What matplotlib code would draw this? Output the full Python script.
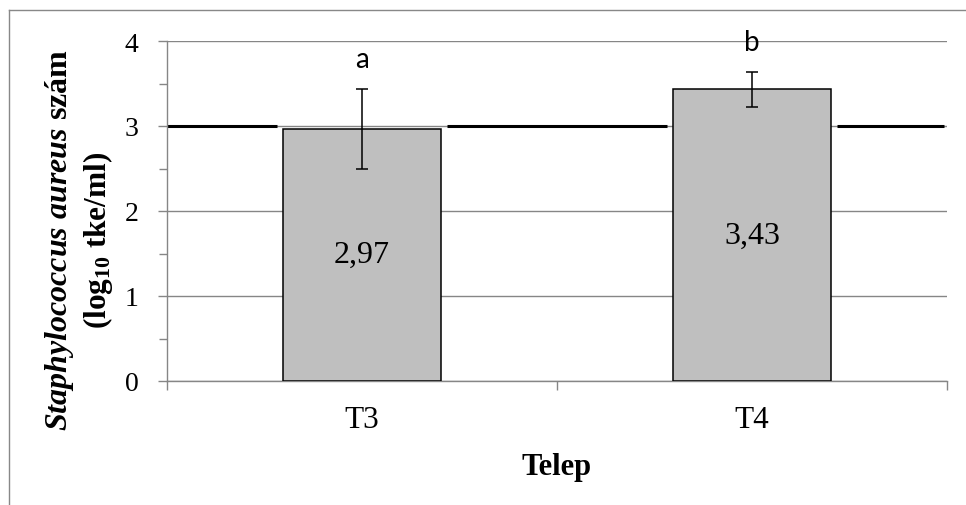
import matplotlib
matplotlib.use('Agg')
import matplotlib.pyplot as plt
from matplotlib.lines import Line2D

# Adatok
telep = ['T3', 'T4']
atlag = [2.97, 3.43]
szoras = [0.47, 0.21]
cimkek = ['2,97', '3,43']
betuk = ['a', 'b']
hatar = 3.0

plt.rcParams['font.family'] = 'Liberation Serif'
plt.rcParams['mathtext.fontset'] = 'custom'
plt.rcParams['mathtext.rm'] = 'Liberation Serif'
plt.rcParams['mathtext.it'] = 'Liberation Serif:italic'
plt.rcParams['mathtext.bf'] = 'Liberation Serif:bold'
plt.rcParams['mathtext.bfit'] = 'Liberation Serif:italic:bold'

szurke = '#868686'

fig = plt.figure(figsize=(9.66, 5.06), dpi=100)
ax = fig.add_axes([167 / 966, 1 - 382 / 506, 780 / 966, 340 / 506])

x = list(range(len(telep)))
w = 0.405
ax.bar(x, atlag, width=w, color='#BFBFBF', edgecolor='black', linewidth=1.1, zorder=3)
ax.errorbar(x, atlag, yerr=szoras, fmt='none', ecolor='black', elinewidth=1.1,
            capsize=4, capthick=1.1, zorder=4)

# határérték vonal (oszlopok között megszakítva)
gap = 0.015
kezd = [-0.5] + [i + w / 2 + gap for i in x]
veg = [i - w / 2 - gap for i in x] + [1.5 - 0.008]
ax.hlines([hatar] * len(kezd), kezd, veg, colors='black', linewidth=2.2, zorder=2)

# feliratok
for i, v, e, c, b in zip(x, atlag, szoras, cimkek, betuk):
    ax.text(i, v / 2, c, ha='center', va='center', fontsize=23)
    ax.text(i, v + e + 0.25, b, ha='center', va='baseline', fontsize=20, family='Lato')

ax.set_xlim(-0.5, 1.5)
ax.set_ylim(0, 4)
ax.set_yticks([0, 1, 2, 3, 4])
ax.set_yticks([0.5, 1.5, 2.5, 3.5], minor=True)
ax.set_xticks(x)
ax.set_xticklabels(telep)
ax.set_xticks([-0.5, 0.5, 1.5], minor=True)

ax.yaxis.grid(True, color=szurke, linewidth=1)
ax.set_axisbelow(True)
for s in ['top', 'right']:
    ax.spines[s].set_visible(False)
for s in ['left', 'bottom']:
    ax.spines[s].set_color(szurke)
    ax.spines[s].set_linewidth(1)

ax.tick_params(axis='y', which='major', length=6.5, width=1, color=szurke, labelsize=20, pad=14)
ax.tick_params(axis='y', which='minor', length=5.5, width=1, color=szurke)
ax.tick_params(axis='x', which='major', length=0, labelsize=22.5, pad=17)
ax.tick_params(axis='x', which='minor', length=6.5, width=1, color=szurke)

ax.set_xlabel('Telep', fontsize=22, fontweight='bold', labelpad=13)

fig.text(60 / 966, 1 - 240 / 506, r'$\mathbfit{Staphylococcus}$ $\mathbfit{aureus}$ szám',
         rotation=90, ha='center', va='center', fontsize=23, fontweight='bold')
fig.text(98 / 966, 1 - 240 / 506, r'(log$_{\mathbf{10}}$ tke/ml)',
         rotation=90, ha='center', va='center', fontsize=22.5, fontweight='bold')

# keret
fig.add_artist(Line2D([9 / 966, 1], [1 - 11 / 506] * 2, transform=fig.transFigure,
                      color='#888888', linewidth=1))
fig.add_artist(Line2D([9 / 966] * 2, [0, 1 - 11 / 506], transform=fig.transFigure,
                      color='#888888', linewidth=1))

fig.savefig('out.png', dpi=100)
